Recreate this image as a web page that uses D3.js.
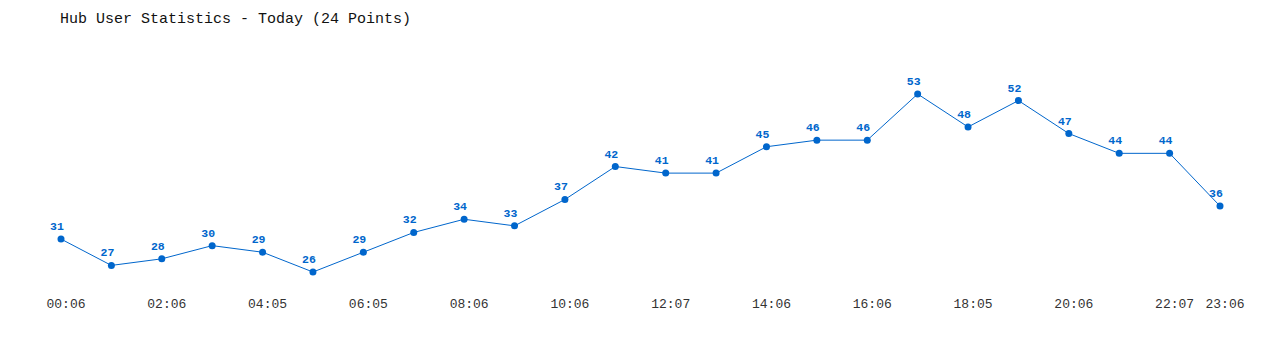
<!DOCTYPE html>
<html>
<head>
<meta charset="utf-8">
<script src="https://cdn.jsdelivr.net/npm/d3@7"></script>
<style>
  body { margin: 0; background: #fff; }
  text { font-family: "Liberation Mono", "DejaVu Sans Mono", monospace; }
</style>
</head>
<body>
<script>
var title = 'Hub User Statistics - Today (24 Points)';
var users = [31, 27, 28, 30, 29, 26, 29, 32, 34, 33, 37, 42, 41, 41, 45, 46, 46, 53, 48, 52, 47, 44, 44, 36];
var tickIndex = [0, 2, 4, 6, 8, 10, 12, 14, 16, 18, 20, 22, 23];
var tickLabels = ['00:06', '02:06', '04:05', '06:05', '08:06', '10:06', '12:07', '14:06', '16:06', '18:05', '20:06', '22:07', '23:06'];

var scr = { w: 1280, h: 350 };
var blue = '#0066cc';

var svg = d3.select('body').append('svg')
    .attr('width', scr.w)
    .attr('height', scr.h);

var xScale = d3.scalePoint()
    .domain(d3.range(users.length))
    .range([61, 1220]);

var yScale = d3.scaleLinear()
    .domain(d3.extent(users))
    .range([272, 94]);

svg.append('text')
    .attr('x', 60)
    .attr('y', 23)
    .attr('font-size', 15)
    .attr('fill', '#111')
    .text(title);

// x axis labels only, no line (labels sit a little right of the points)
var xAxis = d3.axisBottom(xScale)
    .tickValues(tickIndex)
    .tickSize(0)
    .tickFormat(function(d) { return tickLabels[tickIndex.indexOf(d)]; });

var gx = svg.append('g')
    .attr('transform', 'translate(4.5,296)')
    .call(xAxis);
gx.select('.domain').remove();
gx.selectAll('text')
    .attr('font-size', 13)
    .attr('fill', '#333')
    .style('font-family', '"Liberation Mono", "DejaVu Sans Mono", monospace');

var line = d3.line()
    .x(function(d, i) { return xScale(i); })
    .y(function(d) { return yScale(d); });

svg.append('path')
    .datum(users)
    .attr('d', line)
    .attr('fill', 'none')
    .attr('stroke', blue)
    .attr('stroke-width', 1);

svg.selectAll('circle')
    .data(users)
    .enter()
    .append('circle')
    .attr('cx', function(d, i) { return xScale(i); })
    .attr('cy', function(d) { return yScale(d); })
    .attr('r', 3.5)
    .attr('fill', blue);

svg.selectAll('.val')
    .data(users)
    .enter()
    .append('text')
    .classed('val', true)
    .attr('x', function(d, i) { return xScale(i) - 4; })
    .attr('y', function(d) { return yScale(d) - 9; })
    .attr('text-anchor', 'middle')
    .attr('font-size', 11.5)
    .attr('font-weight', 'bold')
    .attr('fill', blue)
    .text(function(d) { return d; });
</script>
</body>
</html>
